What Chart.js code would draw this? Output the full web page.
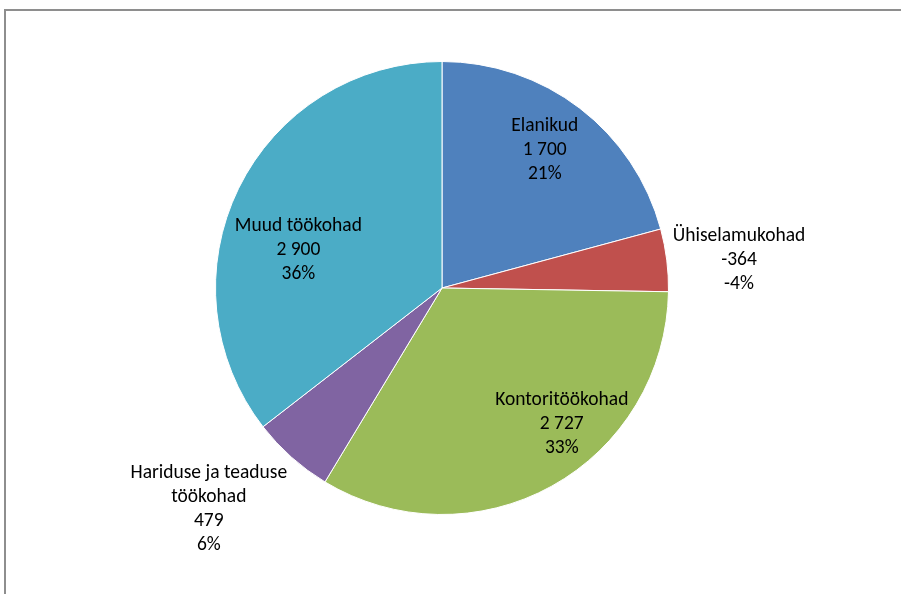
<!DOCTYPE html>
<html lang="et">
  <head>
    <meta charset="utf-8">
    <title>Elanikud ja töökohad</title>
    <script src="https://cdn.jsdelivr.net/npm/chart.js@4.4.1/dist/chart.umd.min.js"></script>
    <style>
      html, body { margin: 0; padding: 0; background: #fff; overflow: hidden; }
      #frame {
        position: absolute; left: 4px; top: 9px; width: 1000px; height: 1000px;
        border-top: 2px solid #8e8e8e; border-left: 2px solid #8e8e8e;
      }
      #wrap { position: absolute; left: 0; top: 0; width: 901px; height: 594px; }
    </style>
  </head>
  <body>
    <div id="frame"></div>
    <div id="wrap"><canvas id="chart" width="901" height="594"></canvas></div>
    <script>
      const categories = ['Elanikud', 'Ühiselamukohad', 'Kontoritöökohad', 'Hariduse ja teaduse töökohad', 'Muud töökohad'];
      const values = [1700, -364, 2727, 479, 2900];
      const colors = ['#4f81bd', '#c0504d', '#9bbb59', '#8064a2', '#4bacc6'];

      // label placement: angle shift (deg) from the slice middle, distance as share of radius
      const labelPlace = [
        { turn: -0.8, dist: 0.76 },
        { turn: 1.7, dist: 1.317 },
        { turn: -12.4, dist: 0.80 },
        { turn: 4.9, dist: 1.418 },
        { turn: -11.3, dist: 0.656 }
      ];

      const FONT = '19.5px Carlito, Lato, sans-serif';
      const LINE = 24;

      function fmt(n) {
        const s = String(Math.abs(n)).replace(/\B(?=(\d{3})+(?!\d))/g, ' ');
        return (n < 0 ? '-' : '') + s;
      }

      // whole percents that still add up to 100 (largest remainder)
      function percents(vals) {
        const total = vals.reduce((a, v) => a + Math.abs(v), 0);
        const raw = vals.map(v => Math.abs(v) / total * 100);
        const out = raw.map(Math.floor);
        let left = 100 - out.reduce((a, v) => a + v, 0);
        raw.map((v, i) => [v - Math.floor(v), i])
          .sort((a, b) => b[0] - a[0])
          .slice(0, left)
          .forEach(([, i]) => out[i]++);
        return out.map((p, i) => (vals[i] < 0 ? -p : p));
      }

      function wrap(ctx, text, maxW) {
        const words = text.split(' ');
        const out = [];
        let cur = '';
        words.forEach(w => {
          const t = cur ? cur + ' ' + w : w;
          if (cur && ctx.measureText(t).width > maxW) { out.push(cur); cur = w; }
          else cur = t;
        });
        if (cur) out.push(cur);
        return out;
      }

      const sliceLabels = {
        id: 'sliceLabels',
        afterDatasetsDraw(chart) {
          const ctx = chart.ctx;
          const meta = chart.getDatasetMeta(0);
          const pcts = percents(values);
          ctx.save();
          ctx.font = FONT;
          ctx.fillStyle = '#000';
          ctx.textAlign = 'center';
          ctx.textBaseline = 'middle';
          meta.data.forEach((arc, i) => {
            const p = arc.getProps(['x', 'y', 'startAngle', 'endAngle', 'outerRadius'], true);
            const mid = (p.startAngle + p.endAngle) / 2 + labelPlace[i].turn * Math.PI / 180;
            const r = p.outerRadius * labelPlace[i].dist;
            const cx = p.x + Math.cos(mid) * r;
            const cy = p.y + Math.sin(mid) * r;
            const lines = wrap(ctx, categories[i], 200).concat([fmt(values[i]), pcts[i] + '%']);
            const top = cy - (lines.length - 1) * LINE / 2;
            lines.forEach((ln, k) => ctx.fillText(ln, cx, top + k * LINE));
          });
          ctx.restore();
        }
      };

      new Chart(document.getElementById('chart'), {
        type: 'pie',
        data: {
          labels: categories,
          datasets: [{
            data: values.map(v => Math.abs(v)),
            backgroundColor: colors,
            borderColor: '#ffffff',
            borderWidth: 1
          }]
        },
        options: {
          responsive: false,
          animation: false,
          layout: { padding: { top: 61, bottom: 79, left: 215, right: 232 } },
          plugins: {
            legend: { display: false },
            tooltip: { enabled: false }
          }
        },
        plugins: [sliceLabels]
      });
    </script>
  </body>
</html>
